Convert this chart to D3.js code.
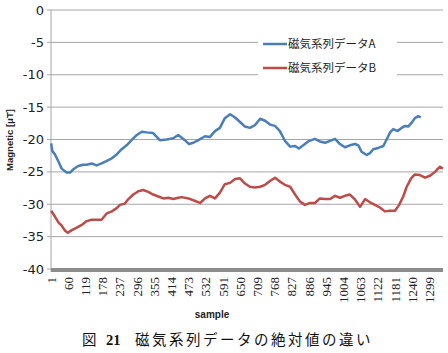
<!DOCTYPE html>
<html>
<head>
<meta charset="utf-8">
<script src="https://d3js.org/d3.v7.min.js"></script>
<style>
  body { margin: 0; background: #fff; }
  .grid line { stroke: #a6a6a6; stroke-width: 1; }
  .ytick { font-family: "DejaVu Sans", sans-serif; font-size: 13px; fill: #222; }
  .xtick { font-family: "Liberation Serif", serif; font-size: 13px; fill: #222; }
</style>
</head>
<body>
<div id="chart"></div>
<script>
// 系列データ (sample番号, 値)
const sampleA = [1, 5, 14, 26, 37, 54, 66, 77, 94, 111, 123, 140, 157, 174, 192, 209, 226, 243, 260, 277, 295, 312, 329, 351, 374, 397, 420, 437, 460, 474, 489, 506, 529, 546, 563, 580, 597, 615, 632, 649, 666, 683, 700, 718, 735, 752, 769, 786, 803, 821, 838, 851, 866, 883, 906, 923, 941, 958, 975, 992, 1009, 1026, 1044, 1055, 1066, 1084, 1095, 1106, 1123, 1141, 1152, 1164, 1175, 1190, 1204, 1215, 1226, 1238, 1249, 1261, 1269];
const valueA = [-20.6, -21.8, -22.3, -23.4, -24.5, -25.1, -25.1, -24.6, -24.1, -23.9, -23.9, -23.7, -24.0, -23.7, -23.3, -22.9, -22.3, -21.5, -20.9, -20.1, -19.3, -18.8, -18.9, -19.0, -20.1, -20.0, -19.8, -19.3, -20.1, -20.7, -20.5, -20.1, -19.5, -19.6, -18.7, -18.2, -16.7, -16.1, -16.6, -17.3, -18.0, -18.2, -17.8, -16.8, -17.1, -17.7, -17.9, -18.7, -20.2, -21.1, -21.0, -21.4, -20.9, -20.3, -19.9, -20.3, -20.5, -20.2, -19.9, -20.7, -21.2, -20.9, -20.7, -20.9, -21.9, -22.4, -22.1, -21.5, -21.3, -21.0, -20.0, -18.9, -18.4, -18.7, -18.2, -17.9, -18.0, -17.4, -16.7, -16.4, -16.6];

const sampleB = [1, 14, 26, 37, 49, 58, 72, 89, 106, 123, 140, 157, 174, 192, 209, 226, 237, 254, 266, 283, 300, 317, 334, 351, 369, 386, 403, 420, 437, 449, 472, 495, 512, 529, 546, 563, 580, 597, 615, 632, 649, 666, 683, 700, 718, 735, 752, 769, 786, 803, 821, 838, 855, 872, 889, 906, 923, 941, 958, 975, 992, 1009, 1026, 1044, 1061, 1078, 1095, 1112, 1129, 1146, 1164, 1181, 1195, 1209, 1221, 1236, 1249, 1266, 1284, 1301, 1318, 1335, 1345];
const valueB = [-31.0, -31.9, -32.8, -33.3, -34.1, -34.4, -34.0, -33.6, -33.2, -32.6, -32.4, -32.4, -32.4, -31.4, -31.1, -30.6, -30.1, -29.9, -29.2, -28.5, -28.0, -27.8, -28.1, -28.5, -28.8, -29.1, -29.0, -29.2, -29.0, -28.9, -29.1, -29.5, -29.8, -29.1, -28.7, -29.1, -28.2, -26.9, -26.7, -26.1, -26.0, -26.8, -27.3, -27.4, -27.3, -27.0, -26.4, -25.9, -26.5, -27.0, -27.3, -28.5, -29.6, -30.1, -29.8, -29.8, -29.1, -29.2, -29.2, -28.7, -29.0, -28.7, -28.5, -29.3, -30.4, -29.2, -29.7, -30.1, -30.5, -31.1, -31.0, -31.0, -30.1, -28.8, -27.3, -26.0, -25.4, -25.5, -25.9, -25.6, -25.0, -24.2, -24.5];

const nSamples = 1345;
const xTicks = [1, 60, 119, 178, 237, 296, 355, 414, 473, 532, 591, 650, 709, 768, 827, 886, 945, 1004, 1063, 1122, 1181, 1240, 1299];
const yTicks = [0, -5, -10, -15, -20, -25, -30, -35, -40];
const seriesNames = ["磁気系列データA", "磁気系列データB"];
const seriesColors = ["#4a7ebb", "#be4b48"];

const width = 448, height = 353;
const mLeft = 51, mRight = 443, mTop = 10, mBottom = 269;

const svg = d3.select("#chart").append("svg")
  .attr("width", width).attr("height", height);

const x = d3.scaleLinear().domain([0.5, nSamples + 0.5]).range([mLeft, mRight]);
const y = d3.scaleLinear().domain([-40, 0]).range([mBottom, mTop]);

// グリッド線
svg.append("g").attr("class", "grid")
  .selectAll("line").data(yTicks.filter(d => d > -40)).enter().append("line")
  .attr("x1", mLeft).attr("x2", mRight)
  .attr("y1", d => y(d)).attr("y2", d => y(d));

// 縦軸
svg.append("line").attr("x1", mLeft).attr("x2", mLeft)
  .attr("y1", mTop).attr("y2", mBottom + 3)
  .attr("stroke", "#a6a6a6");
svg.append("g").selectAll("line").data(yTicks).enter().append("line")
  .attr("x1", mLeft - 4).attr("x2", mLeft)
  .attr("y1", d => y(d)).attr("y2", d => y(d))
  .attr("stroke", "#a6a6a6");

// 床 (太いグレーの帯)
svg.append("rect").attr("x", mLeft).attr("y", mBottom - 1)
  .attr("width", mRight - mLeft).attr("height", 4)
  .attr("fill", "#8c8c8c");

// y ラベル
svg.append("g").selectAll("text").data(yTicks).enter().append("text")
  .attr("class", "ytick")
  .attr("x", mLeft - 7).attr("y", d => y(d)).attr("dy", "0.35em")
  .attr("text-anchor", "end")
  .text(d => d);

// x ラベル
svg.append("g").selectAll("text").data(xTicks).enter().append("text")
  .attr("class", "xtick")
  .attr("transform", d => `translate(${x(d)},277) rotate(-90)`)
  .attr("dy", "0.35em")
  .attr("text-anchor", "end")
  .text(d => d);

// 線
const line = d3.line().x(d => x(d[0])).y(d => y(d[1]));
const dataA = sampleA.map((s, i) => [s, valueA[i]]);
const dataB = sampleB.map((s, i) => [s, valueB[i]]);
[dataA, dataB].forEach((data, i) => {
  svg.append("path").datum(data)
    .attr("d", line)
    .attr("fill", "none")
    .attr("stroke", seriesColors[i])
    .attr("stroke-width", 2.5)
    .attr("stroke-linejoin", "round");
});

// 凡例
const legend = svg.append("g");
legend.append("rect").attr("x", 258).attr("y", 30)
  .attr("width", 139).attr("height", 52).attr("fill", "#fff");
seriesNames.forEach((name, i) => {
  const ly = 44 + i * 24;
  legend.append("line").attr("x1", 263).attr("x2", 287)
    .attr("y1", ly).attr("y2", ly)
    .attr("stroke", seriesColors[i]).attr("stroke-width", 2.5);
  legend.append("text").attr("x", 288).attr("y", ly).attr("dy", "0.36em")
    .style("font-family", "'Noto Sans CJK JP', sans-serif")
    .style("font-size", "11.5px").attr("fill", "#222")
    .text(name);
});

// 軸タイトル
svg.append("text")
  .attr("transform", "translate(10,140) rotate(-90)")
  .attr("dy", "0.35em").attr("text-anchor", "middle")
  .style("font-family", "'Liberation Sans', sans-serif")
  .style("font-size", "9.5px").style("font-weight", "bold").attr("fill", "#222")
  .text("Magnetic [μT]");

svg.append("text")
  .attr("x", 212).attr("y", 318).attr("text-anchor", "middle")
  .style("font-family", "'Liberation Sans', sans-serif")
  .style("font-size", "10px").style("font-weight", "bold").attr("fill", "#222")
  .text("sample");

// キャプション
const cap = svg.append("text").attr("x", 82).attr("y", 345)
  .style("font-family", "'Noto Sans CJK JP', sans-serif")
  .style("font-size", "14.5px").attr("fill", "#111");
cap.append("tspan").text("図");
cap.append("tspan").attr("x", 106).style("font-family", "'Liberation Serif', serif")
  .style("font-weight", "bold").text("21");
cap.append("tspan").attr("x", 135).style("letter-spacing", "2.5px")
  .text("磁気系列データの絶対値の違い");
</script>
</body>
</html>
